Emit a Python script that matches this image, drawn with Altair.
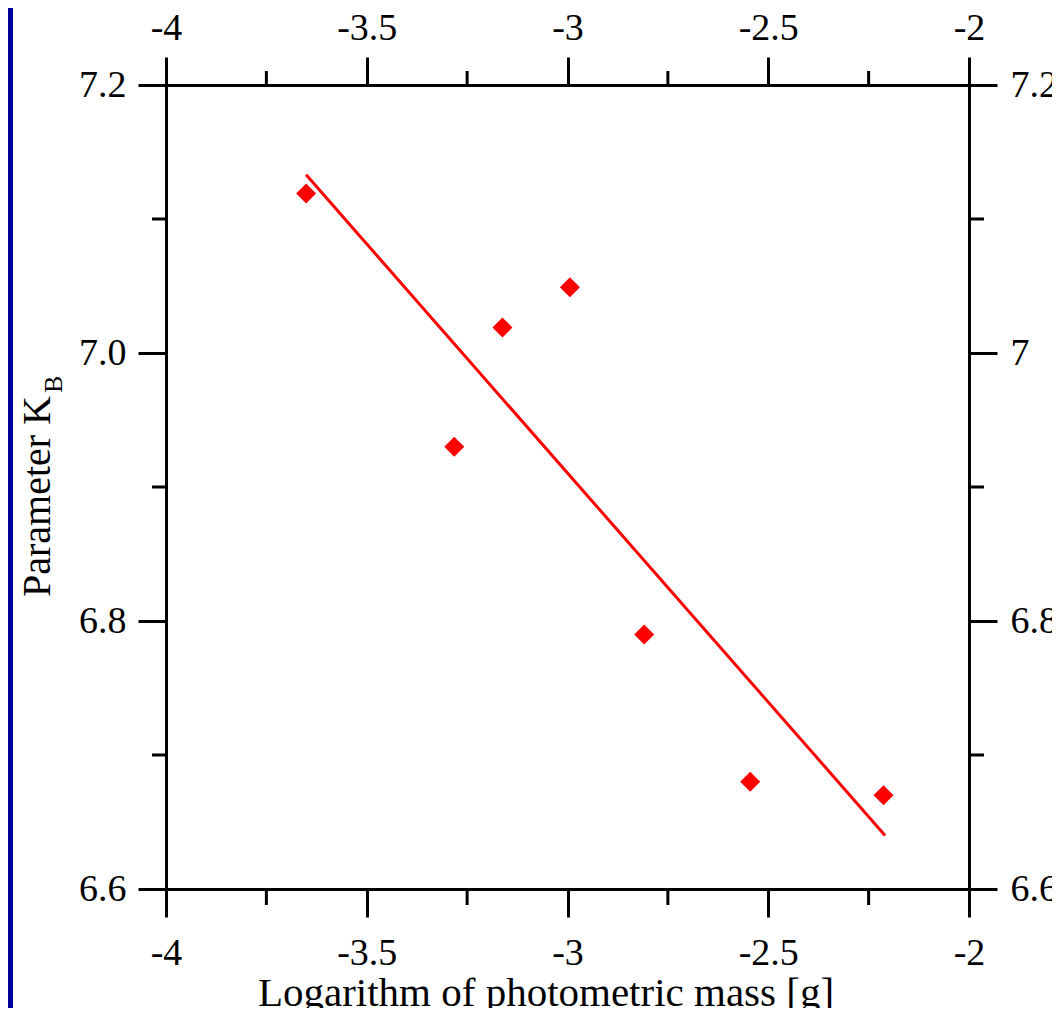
import altair as alt
import pandas as pd

# ---- data ----
mass = [-3.651, -3.282, -3.162, -2.994, -2.809, -2.545, -2.213]
kb = [7.119, 6.930, 7.019, 7.049, 6.790, 6.680, 6.670]
fit_x = [-3.651, -2.209]
fit_y = [7.133, 6.640]
x_major = [-4, -3.5, -3, -2.5, -2]
x_minor = [-3.75, -3.25, -2.75, -2.25]
y_major = [7.2, 7.0, 6.8, 6.6]
y_minor = [7.1, 6.9, 6.7]
x_title = ["Logarithm of photometric mass [g]"]
y_title = ["Parameter K"]
y_sub = ["B"]

W, H = 803, 804
PAD = {"left": 158, "top": 77, "right": 83, "bottom": 119}
FONT = "'Liberation Serif', 'Times New Roman', Times, 'DejaVu Serif', serif"
RED = "#ff0000"

xs = alt.Scale(domain=[-4, -2], nice=False, zero=False)
ys = alt.Scale(domain=[6.6, 7.2], nice=False, zero=False)

ax = dict(domainColor="black", domainWidth=3, tickColor="black", tickWidth=3,
          tickSize=28, labelFont=FONT, labelFontSize=38, labelColor="black",
          grid=False, labelFlush=False, labelOverlap=False)

pts = alt.Chart(pd.DataFrame({"x": mass, "y": kb})).mark_point(
    shape="diamond", filled=True, size=400, color=RED, opacity=1
).encode(
    x=alt.X("x:Q", scale=xs, title=None,
            axis=alt.Axis(orient="bottom", values=x_major, labelExpr="'' + datum.value",
                          labelPadding=17, **ax)),
    y=alt.Y("y:Q", scale=ys, title=None,
            axis=alt.Axis(orient="left", values=y_major,
                          labelExpr="format(datum.value, '.1f')", labelPadding=12, **ax)),
)

fit = alt.Chart(pd.DataFrame({"x": fit_x, "y": fit_y})).mark_line(
    color=RED, strokeWidth=3
).encode(
    x=alt.X("x:Q", scale=xs, title=None,
            axis=alt.Axis(orient="top", values=x_major, labelExpr="'' + datum.value",
                          labelPadding=10, **ax)),
    y=alt.Y("y:Q", scale=ys, title=None,
            axis=alt.Axis(orient="right", values=y_major, labelExpr="'' + datum.value",
                          labelPadding=13, **ax)),
)

xm = pd.DataFrame({"v": x_minor})
ym = pd.DataFrame({"v": y_minor})
rule = dict(color="black", strokeWidth=3)

minor_bottom = alt.Chart(xm).mark_rule(**rule).encode(
    x=alt.X("v:Q", scale=xs, axis=None), y=alt.value(H), y2=alt.value(H + 16))
minor_top = alt.Chart(xm).mark_rule(**rule).encode(
    x=alt.X("v:Q", scale=xs, axis=None), y=alt.value(0), y2=alt.value(-14))
minor_left = alt.Chart(ym).mark_rule(**rule).encode(
    y=alt.Y("v:Q", scale=ys, axis=None), x=alt.value(0), x2=alt.value(-14))
minor_right = alt.Chart(ym).mark_rule(**rule).encode(
    y=alt.Y("v:Q", scale=ys, axis=None), x=alt.value(W), x2=alt.value(W + 15))

strip = alt.Chart(pd.DataFrame({"a": [0]})).mark_rect(color="#000099").encode(
    x=alt.value(-PAD["left"]), x2=alt.value(-PAD["left"] + 5),
    y=alt.value(-PAD["top"]), y2=alt.value(H + PAD["bottom"]))

xt = alt.Chart(pd.DataFrame({"t": x_title})).mark_text(
    font=FONT, fontSize=41, color="black", align="center", baseline="alphabetic"
).encode(text="t:N", x=alt.value(380), y=alt.value(921))

yt = alt.Chart(pd.DataFrame({"t": y_title})).mark_text(
    font=FONT, fontSize=40, color="black", align="right", baseline="alphabetic", angle=270
).encode(text="t:N", x=alt.value(-116), y=alt.value(311))

ysb = alt.Chart(pd.DataFrame({"t": y_sub})).mark_text(
    font=FONT, fontSize=26, color="black", align="left", baseline="alphabetic", angle=270
).encode(text="t:N", x=alt.value(-104), y=alt.value(308))

chart = alt.layer(
    strip, minor_bottom, minor_top, minor_left, minor_right, fit, pts, xt, yt, ysb
).resolve_axis(x="independent", y="independent").properties(
    width=W, height=H, padding=PAD,
    autosize=alt.AutoSizeParams(type="none"), background="white"
).configure_view(strokeWidth=0)

chart.save("out.html", embed_options={"renderer": "svg", "actions": False})
